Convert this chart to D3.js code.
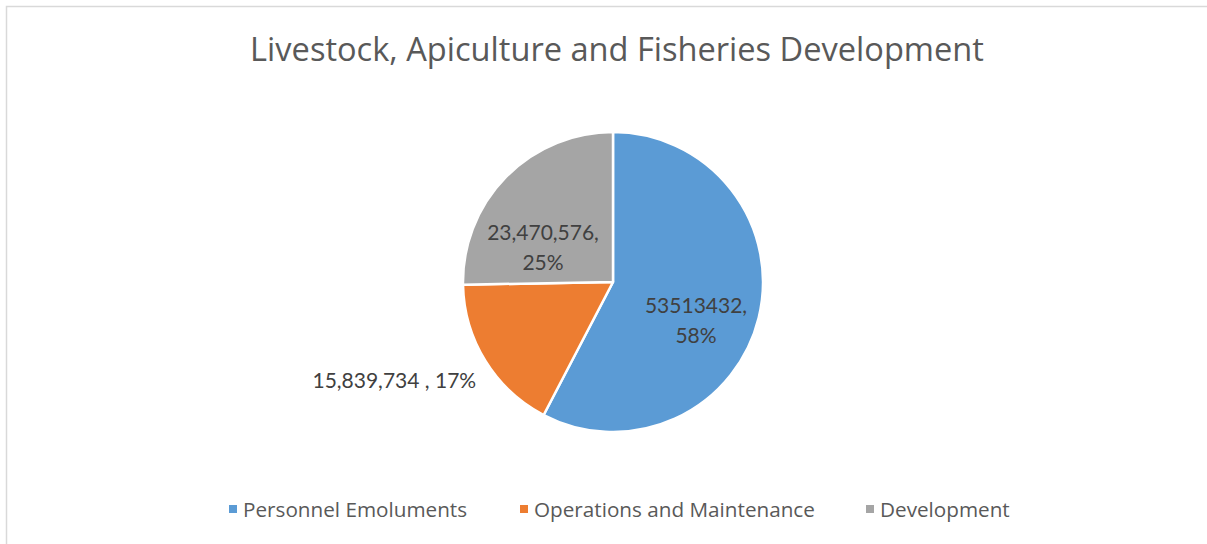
<!DOCTYPE html>
<html>
<head>
<meta charset="utf-8">
<script src="https://cdn.jsdelivr.net/npm/d3@7"></script>
<style>
  body { margin: 0; background: #fff; }
  svg { display: block; font-family: "Open Sans", Lato, sans-serif; }
</style>
</head>
<body>
<svg id="chart" width="1207" height="544"></svg>
<script>
const title = "Livestock, Apiculture and Fisheries Development";
const categories = ["Personnel Emoluments", "Operations and Maintenance", "Development"];
const values = [53513432, 15839734, 23470576];
const labelTexts = [["53513432,", "58%"], ["15,839,734 , 17%"], ["23,470,576,", "25%"]];
const colors = ["#5b9bd5", "#ed7d31", "#a5a5a5"];

const svg = d3.select("#chart");

// chart frame, runs off the right and bottom of the picture
svg.append("rect")
  .attr("x", 6.5).attr("y", 6.5)
  .attr("width", 1220).attr("height", 560)
  .attr("fill", "#fff")
  .attr("stroke", "#d9d9d9")
  .attr("stroke-width", 1.5);

svg.append("text")
  .attr("x", 617).attr("y", 61)
  .attr("text-anchor", "middle")
  .attr("font-size", 32.6)
  .attr("fill", "#595959")
  .text(title);

const cx = 613, cy = 282, r = 150;
const pie = d3.pie().sort(null).value(d => d);
const arcs = pie(values);
const arc = d3.arc().innerRadius(0).outerRadius(r);

const g = svg.append("g").attr("transform", `translate(${cx},${cy})`);

g.selectAll("path")
  .data(arcs)
  .join("path")
    .attr("d", arc)
    .attr("fill", (d, i) => colors[i])
    .attr("stroke", "#fff")
    .attr("stroke-width", 2.5)
    .attr("stroke-linejoin", "round");

// excel-ish label placement: centroid plus a nudge per slice
const labelArc = d3.arc().innerRadius(r * 0.57).outerRadius(r * 0.57);
const nudge = [[0, 18], [-146, 54], [-9, 25]];

g.selectAll("text.lbl")
  .data(arcs)
  .join("text")
    .attr("class", "lbl")
    .attr("text-anchor", "middle")
    .attr("font-family", "Lato, sans-serif")
    .attr("font-size", 21)
    .attr("fill", "#404040")
    .each(function(d, i) {
      const c = labelArc.centroid(d);
      const p = [c[0] + nudge[i][0], c[1] + nudge[i][1]];
      const lines = labelTexts[i];
      const t = d3.select(this);
      lines.forEach((s, k) => {
        t.append("tspan")
          .attr("x", p[0])
          .attr("y", p[1] + 7.5 + (k - (lines.length - 1) / 2) * 30)
          .text(s);
      });
    });

// legend
const legendX = [229, 520, 866];
const legend = svg.append("g").attr("transform", "translate(0,509)");
const items = legend.selectAll("g")
  .data(categories)
  .join("g")
    .attr("transform", (d, i) => `translate(${legendX[i]},0)`);
items.append("rect")
  .attr("x", 0).attr("y", -4)
  .attr("width", 8).attr("height", 8)
  .attr("fill", (d, i) => colors[i]);
items.append("text")
  .attr("x", 14).attr("y", 8)
  .attr("font-size", 20.7)
  .attr("fill", "#595959")
  .text(d => d);
</script>
</body>
</html>
